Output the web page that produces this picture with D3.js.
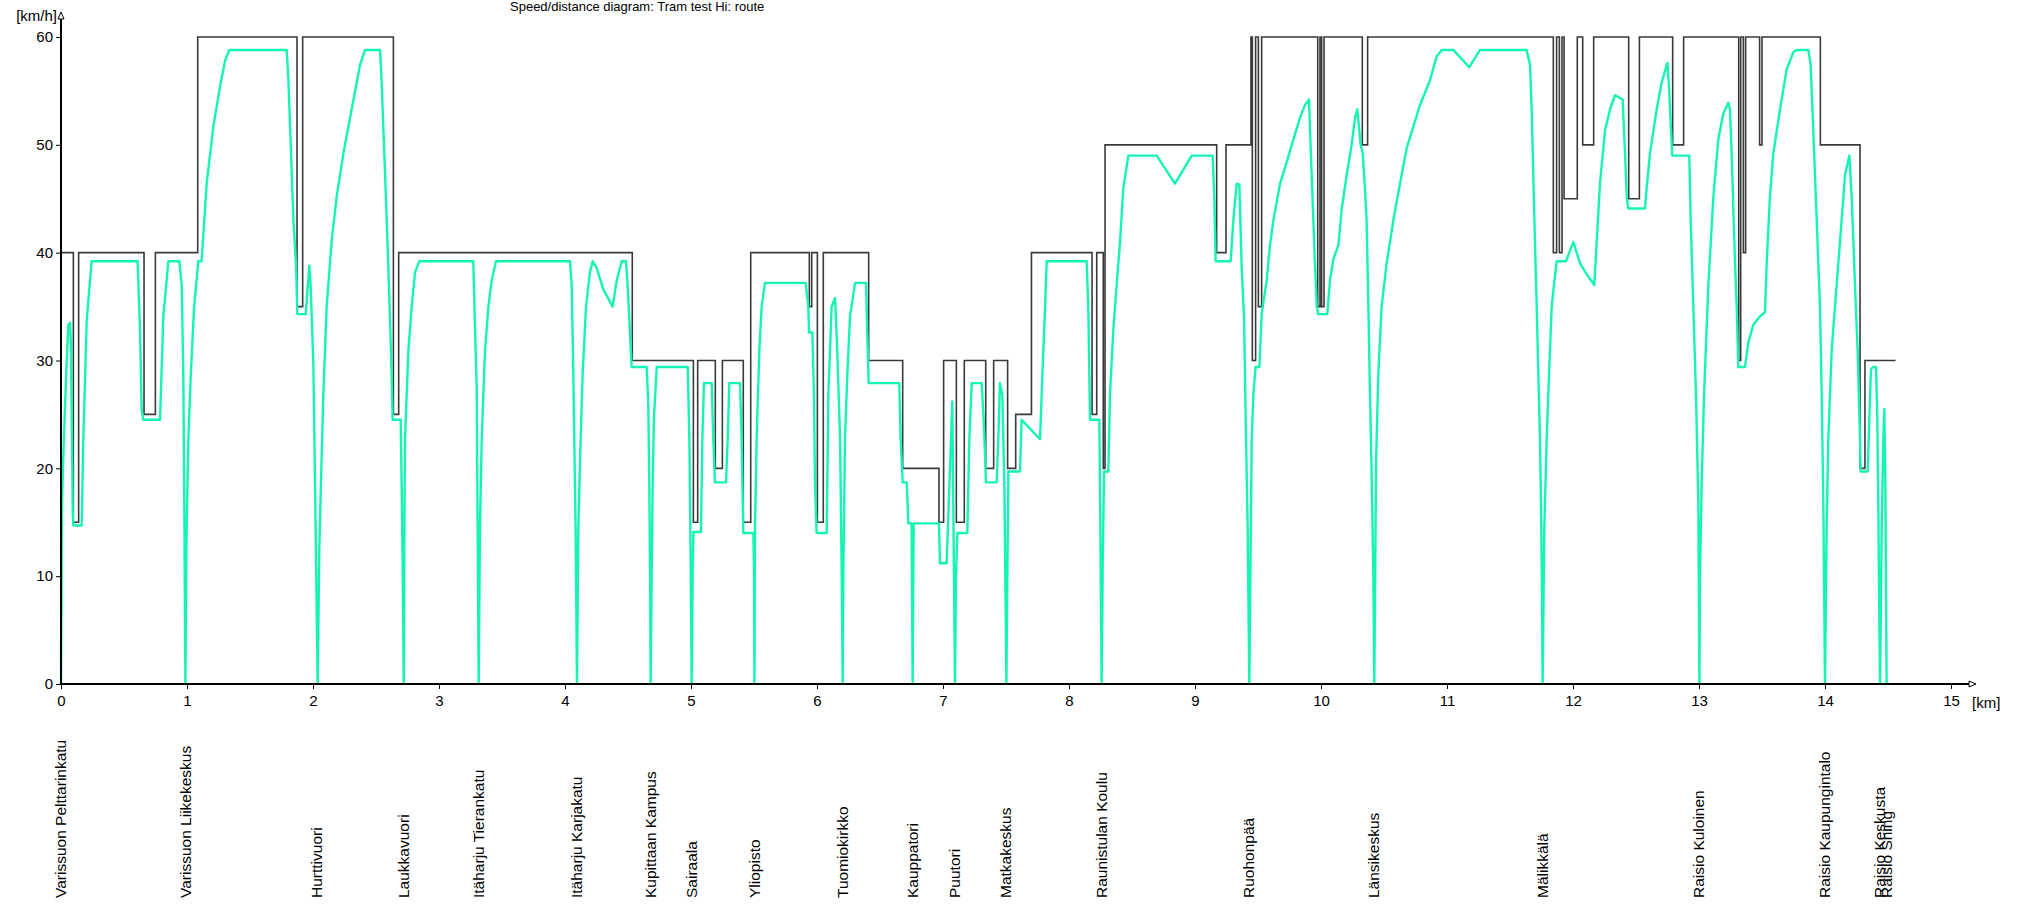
<!DOCTYPE html>
<html>
<head>
<meta charset="utf-8">
<script src="https://cdn.jsdelivr.net/npm/d3@7"></script>
<style>
body { margin: 0; background: #fff; }
text { font-family: "Liberation Sans", Arial, sans-serif; fill: #000; }
</style>
</head>
<body>
<script>
// speed limit (step changes): km where it changes, new limit in km/h
var limitKm = [0, 0.098, 0.140, 0.659, 0.749, 1.085, 1.873, 1.918, 2.638, 2.680, 4.534, 5.019, 5.053, 5.193, 5.249,
  5.415, 5.474, 5.939, 5.958, 6.003, 6.050, 6.410, 6.680, 6.968, 7.005, 7.106, 7.169, 7.339, 7.402, 7.513, 7.577,
  7.702, 8.183, 8.220, 8.272, 8.286, 9.172, 9.246, 9.444, 9.455, 9.481, 9.503, 9.529, 9.974, 9.992, 10.005, 10.024,
  10.328, 10.370, 11.844, 11.870, 11.892, 11.913, 11.929, 12.034, 12.077, 12.164, 12.442, 12.527, 12.791, 12.878,
  13.315, 13.331, 13.352, 13.370, 13.481, 13.500, 13.963, 14.278, 14.317, 14.56];
var limitV = [40, 15, 40, 25, 40, 60, 35, 60, 25, 40, 30, 15, 30, 20, 30,
  15, 40, 35, 40, 15, 40, 30, 20, 15, 30, 15, 30, 20, 30, 20, 25,
  40, 25, 40, 20, 50, 40, 50, 60, 30, 60, 35, 60, 35, 60, 35, 60,
  50, 60, 40, 60, 40, 60, 45, 60, 50, 60, 45, 60, 50, 60,
  30, 60, 40, 60, 50, 60, 50, 20, 30, 30];

// simulated speed profile
var speedKm = [0, 0.008, 0.019, 0.040, 0.058, 0.071, 0.079, 0.087, 0.093, 0.098, 0.164, 0.177, 0.204, 0.243, 0.608,
  0.627, 0.640, 0.653, 0.786, 0.812, 0.852, 0.939, 0.958, 0.971, 0.979, 0.987, 0.997, 1.011, 1.029, 1.056, 1.090,
  1.116, 1.156, 1.209, 1.262, 1.302, 1.336, 1.791, 1.804, 1.823, 1.844, 1.865, 1.876, 1.942, 1.971, 1.981, 2.003,
  2.016, 2.029, 2.037, 2.050, 2.063, 2.082, 2.108, 2.148, 2.188, 2.241, 2.307, 2.373, 2.413, 2.532, 2.545, 2.563,
  2.585, 2.606, 2.624, 2.632, 2.696, 2.704, 2.712, 2.720, 2.724, 2.730, 2.757, 2.783, 2.810, 2.844, 3.272, 3.286,
  3.299, 3.307, 3.315, 3.325, 3.339, 3.365, 3.392, 3.418, 3.452, 4.040, 4.053, 4.066, 4.085, 4.095, 4.106, 4.119,
  4.140, 4.167, 4.198, 4.220, 4.251, 4.304, 4.378, 4.410, 4.450, 4.484, 4.497, 4.516, 4.529, 4.648, 4.661, 4.669,
  4.675, 4.680, 4.688, 4.696, 4.706, 4.728, 4.974, 4.987, 4.997, 5.005, 5.013, 5.019, 5.079, 5.090, 5.103, 5.164,
  5.177, 5.190, 5.278, 5.291, 5.304, 5.389, 5.402, 5.415, 5.495, 5.500, 5.503, 5.508, 5.521, 5.542, 5.561, 5.587,
  5.910, 5.931, 5.937, 5.963, 5.976, 5.984, 5.997, 6.077, 6.090, 6.116, 6.143, 6.161, 6.183, 6.196, 6.204, 6.209,
  6.222, 6.241, 6.262, 6.302, 6.389, 6.399, 6.410, 6.653, 6.664, 6.680, 6.712, 6.725, 6.751, 6.759, 6.767, 6.968,
  6.976, 7.029, 7.074, 7.095, 7.103, 7.114, 7.193, 7.209, 7.228, 7.307, 7.325, 7.341, 7.426, 7.439, 7.452, 7.471,
  7.487, 7.497, 7.503, 7.511, 7.519, 7.611, 7.624, 7.770, 7.783, 7.796, 7.810, 7.823, 8.140, 8.153, 8.167, 8.241,
  8.249, 8.259, 8.267, 8.278, 8.312, 8.325, 8.352, 8.378, 8.405, 8.431, 8.471, 8.696, 8.841, 8.974, 9.140, 9.153,
  9.164, 9.283, 9.304, 9.331, 9.352, 9.370, 9.389, 9.405, 9.418, 9.431, 9.437, 9.450, 9.463, 9.481, 9.511, 9.529,
  9.569, 9.595, 9.622, 9.675, 9.728, 9.781, 9.833, 9.873, 9.905, 9.913, 9.926, 9.939, 9.952, 9.966, 9.979, 10.050,
  10.071, 10.098, 10.138, 10.164, 10.204, 10.243, 10.270, 10.288, 10.315, 10.331, 10.349, 10.362, 10.376, 10.389,
  10.402, 10.415, 10.423, 10.429, 10.437, 10.455, 10.481, 10.521, 10.574, 10.627, 10.680, 10.733, 10.786, 10.865,
  10.918, 10.958, 11.050, 11.177, 11.262, 11.632, 11.659, 11.672, 11.685, 11.698, 11.712, 11.725, 11.738, 11.746,
  11.754, 11.759, 11.765, 11.772, 11.791, 11.810, 11.831, 11.849, 11.870, 11.944, 12.003, 12.056, 12.108, 12.169,
  12.188, 12.214, 12.254, 12.294, 12.333, 12.394, 12.413, 12.426, 12.439, 12.571, 12.585, 12.611, 12.638, 12.664,
  12.704, 12.749, 12.762, 12.775, 12.788, 12.923, 12.934, 12.955, 12.976, 12.995, 13.003, 13.008, 13.021, 13.040,
  13.074, 13.114, 13.153, 13.193, 13.233, 13.246, 13.259, 13.286, 13.299, 13.312, 13.365, 13.392, 13.431, 13.484,
  13.524, 13.537, 13.563, 13.590, 13.643, 13.696, 13.749, 13.775, 13.868, 13.886, 13.907, 13.934, 13.960, 13.974,
  13.987, 14.000, 14.013, 14.026, 14.053, 14.079, 14.119, 14.159, 14.193, 14.212, 14.238, 14.259, 14.278, 14.283,
  14.339, 14.352, 14.365, 14.384, 14.405, 14.415, 14.423, 14.431, 14.437, 14.450, 14.463, 14.471, 14.479, 14.489];
var speedV = [0, 16.5, 21.5, 28.4, 33.3, 33.5, 31.7, 22.7, 16.1, 14.7, 14.7, 22.7, 33.7, 39.2, 39.2,
  32.9, 25.5, 24.5, 24.5, 34.1, 39.2, 39.2, 37.0, 28.4, 15.7, 0, 14.5, 22.7, 28.4, 34.9, 39.2,
  39.2, 46.4, 51.7, 55.4, 57.8, 58.8, 58.8, 56.2, 50.1, 43.1, 39.0, 34.3, 34.3, 38.8, 37.0, 29.6,
  18.6, 7.2, 0, 12.5, 18.6, 26.8, 34.9, 41.1, 45.2, 49.2, 53.3, 57.4, 58.8, 58.8, 55.8, 50.1,
  43.1, 35.8, 28.8, 24.5, 24.5, 18.2, 10.4, 0, 12.0, 22.7, 30.9, 35.0, 38.2, 39.2, 39.2, 32.9,
  27.6, 13.7, 0, 14.5, 22.7, 30.9, 35.0, 37.4, 39.2, 39.2, 37.0, 28.8, 13.7, 0, 14.5, 20.6,
  28.8, 35.0, 38.2, 39.2, 38.6, 36.6, 35.0, 37.4, 39.2, 39.2, 37.0, 32.5, 29.4, 29.4, 26.0, 18.6,
  10.4, 0, 10.4, 18.6, 24.7, 29.4, 29.4, 22.7, 12.0, 0, 10.4, 14.1, 14.1, 22.7, 27.9, 27.9,
  22.7, 18.7, 18.7, 22.7, 27.9, 27.9, 22.7, 14.0, 14.0, 10.4, 0, 14.5, 22.7, 30.9, 35.0, 37.2,
  37.2, 35.0, 32.6, 32.6, 26.8, 18.6, 14.0, 14.0, 26.8, 35.0, 35.8, 30.9, 22.7, 10.4, 0, 10.4,
  22.7, 28.8, 34.1, 37.2, 37.2, 32.5, 27.9, 27.9, 22.7, 18.7, 18.7, 14.9, 14.9, 0, 14.9, 14.9,
  11.2, 11.2, 26.2, 0, 10.0, 14.0, 14.0, 22.7, 27.9, 27.9, 24.0, 18.7, 18.7, 22.7, 27.9, 26.8,
  18.6, 7.0, 0, 10.4, 19.7, 19.7, 24.5, 22.7, 26.8, 30.9, 35.0, 39.2, 39.2, 35.0, 24.5, 24.5,
  14.5, 0, 10.4, 19.7, 19.7, 26.8, 32.9, 37.0, 41.0, 46.0, 49.0, 49.0, 46.4, 49.0, 49.0, 45.2,
  39.2, 39.2, 43.0, 46.4, 46.3, 38.8, 34.0, 22.7, 14.5, 0, 7.0, 22.7, 26.8, 29.4, 29.4, 34.3,
  37.4, 40.7, 43.0, 46.4, 48.4, 50.5, 52.5, 53.7, 54.2, 51.3, 47.2, 43.1, 39.0, 35.0, 34.3, 34.3,
  37.4, 39.4, 40.7, 44.0, 47.2, 50.0, 52.5, 53.3, 50.0, 49.2, 45.9, 43.0, 35.0, 26.8,
  19.4, 10.4, 0, 8.4, 20.6, 28.8, 35.0, 39.0, 43.0, 46.4, 49.7, 51.7, 53.7, 56.0,
  58.2, 58.8, 58.8, 57.2, 58.8, 58.8, 57.4, 53.3, 47.2, 41.0, 35.0, 28.8, 22.7, 16.6,
  8.4, 0, 6.3, 14.5, 22.7, 28.8, 35.0, 37.0, 39.2, 39.2, 41.0, 39.0, 38.0, 37.0,
  41.0, 46.4, 51.3, 53.3, 54.6, 54.2, 49.2, 45.2, 44.1, 44.1, 46.0, 49.2, 51.3, 53.3,
  55.8, 57.6, 55.4, 52.1, 49.0, 49.0, 43.0, 35.0, 26.8, 16.6, 0, 10.4, 18.6, 26.8,
  37.0, 45.2, 50.5, 52.9, 53.9, 53.3, 49.2, 39.0, 35.0, 29.4, 29.4, 31.7, 33.3, 34.1,
  34.5, 39.0, 45.2, 49.2, 53.3, 57.0, 58.6, 58.8, 58.8, 57.4, 51.3, 43.1, 35.0, 26.8,
  16.6, 0, 14.5, 22.7, 30.9, 35.0, 41.0, 47.2, 49.0, 45.2, 37.0, 30.9, 22.7, 19.7,
  19.7, 24.7, 29.2, 29.4, 29.4, 24.7, 16.6, 6.3, 0, 14.5, 22.7, 25.5, 18.6, 0];

var stopNames = ["Varissuon Pelttarinkatu", "Varissuon Liikekeskus", "Hurttivuori", "Laukkavuori",
  "Itäharju Tierankatu", "Itäharju Karjakatu", "Kupittaan Kampus", "Sairaala", "Yliopisto", "Tuomiokirkko",
  "Kauppatori", "Puutori", "Matkakeskus", "Raunistulan Koulu", "Ruohonpää", "Länsikeskus", "Mälikkälä",
  "Raisio Kuloinen", "Raisio Kaupungintalo", "Raisio Keskusta", "Raisio Sning"];
var stopKm = [0, 0.987, 2.030, 2.715, 3.315, 4.095, 4.678, 5.005, 5.503, 6.200, 6.759, 7.090, 7.500,
  8.259, 9.425, 10.420, 11.755, 13.000, 13.995, 14.437, 14.489];

var kmTicks = d3.range(0, 16);
var speedTicks = [0, 10, 20, 30, 40, 50, 60];

var W = 2020, H = 905;
var svg = d3.select("body").append("svg")
  .attr("width", W)
  .attr("height", H);

var x = d3.scaleLinear().domain([0, 15]).range([61, 1951]);
var y = d3.scaleLinear().domain([0, 60]).range([684, 37]);

// title at the very top edge
svg.append("text")
  .attr("x", 510)
  .attr("y", 11)
  .attr("font-size", "13px")
  .attr("fill", "#333")
  .text("Speed/distance diagram: Tram test Hi: route");

// speed limit
var limitData = limitKm.map(function(k, i) { return [k, limitV[i]]; });
svg.append("path")
  .datum(limitData)
  .attr("fill", "none")
  .attr("stroke", "#3a3a3a")
  .attr("stroke-width", 1.6)
  .attr("d", d3.line()
    .x(function(d) { return x(d[0]); })
    .y(function(d) { return y(d[1]); })
    .curve(d3.curveStepAfter));

// speed profile
var speedData = speedKm.map(function(k, i) { return [k, speedV[i]]; });
svg.append("path")
  .datum(speedData)
  .attr("fill", "none")
  .attr("stroke", "#14f5b4")
  .attr("stroke-width", 2.4)
  .attr("stroke-linejoin", "round")
  .attr("d", d3.line()
    .x(function(d) { return x(d[0]); })
    .y(function(d) { return y(d[1]); }));

// y axis
var yAxis = svg.append("g")
  .attr("transform", "translate(61,0)")
  .call(d3.axisLeft(y).tickValues(speedTicks).tickSize(5).tickPadding(3).tickFormat(d3.format("d")));
yAxis.select(".domain").remove();
yAxis.selectAll("text").attr("font-size", "15px").attr("font-family", "Liberation Sans, Arial, sans-serif");
yAxis.selectAll("line").attr("stroke", "#000");

// x axis
var xAxis = svg.append("g")
  .attr("transform", "translate(0,684)")
  .call(d3.axisBottom(x).tickValues(kmTicks).tickSize(5).tickPadding(6).tickFormat(d3.format("d")));
xAxis.select(".domain").remove();
xAxis.selectAll("text").attr("font-size", "15px").attr("font-family", "Liberation Sans, Arial, sans-serif");
xAxis.selectAll("line").attr("stroke", "#000");

// axis lines with small arrows
svg.append("line").attr("x1", 61).attr("y1", 685).attr("x2", 61).attr("y2", 16)
  .attr("stroke", "#000").attr("stroke-width", 2);
svg.append("line").attr("x1", 60).attr("y1", 684).attr("x2", 1970).attr("y2", 684)
  .attr("stroke", "#000").attr("stroke-width", 2);
svg.append("path").attr("d", "M61,12 L58,19 L64,19 Z").attr("fill", "#fff").attr("stroke", "#000");
svg.append("path").attr("d", "M1976,684 L1969,681 L1969,687 Z").attr("fill", "#fff").attr("stroke", "#000");

svg.append("text").attr("x", 57).attr("y", 21).attr("text-anchor", "end")
  .attr("font-size", "15px").text("[km/h]");
svg.append("text").attr("x", 1972).attr("y", 708)
  .attr("font-size", "15px").text("[km]");

// stop names, rotated, bottom aligned
svg.selectAll(".stop")
  .data(stopNames)
  .enter()
  .append("text")
  .attr("class", "stop")
  .attr("transform", function(d, i) { return "translate(" + x(stopKm[i]) + ",898) rotate(-90)"; })
  .attr("dy", "0.35em")
  .attr("font-size", "15.5px")
  .text(function(d) { return d; });
</script>
</body>
</html>
